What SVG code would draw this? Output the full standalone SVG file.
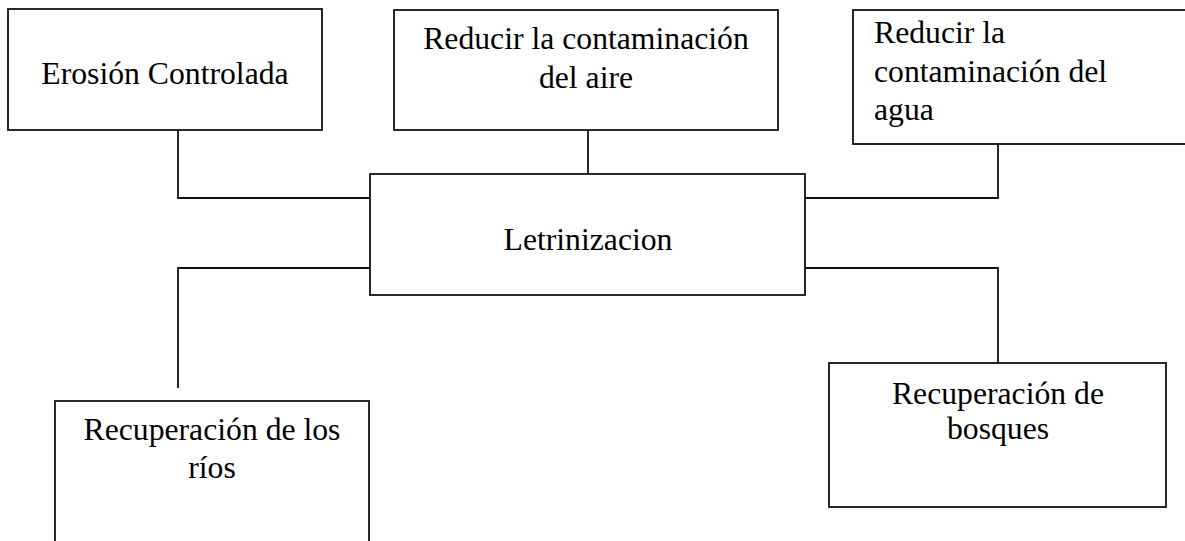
<svg xmlns="http://www.w3.org/2000/svg" width="1185" height="541" viewBox="0 0 1185 541">
<style>
.box{fill:#fff;stroke:#111;stroke-width:1.8}
.ln{fill:none;stroke:#111;stroke-width:1.8}
text{font-family:"Liberation Serif","Times New Roman",serif;font-size:31.7px;fill:#000}
.c{text-anchor:middle}
</style>
<rect width="1185" height="541" fill="#fff"/>
<g id="connectors">
<polyline class="ln" points="178,128 178,198 370,198"/>
<line class="ln" x1="588" y1="130" x2="588" y2="174"/>
<polyline class="ln" points="998,144 998,198 805,198"/>
<polyline class="ln" points="178,388 178,268 370,268"/>
<polyline class="ln" points="805,268 998,268 998,363"/>
</g>
<g id="erosion">
<rect class="box" x="8" y="9" width="314" height="121"/>
<text class="c" x="165" y="84">Erosión Controlada</text>
</g>
<g id="aire">
<rect class="box" x="394" y="10" width="384" height="120"/>
<text class="c" x="586" y="49">Reducir la contaminación</text>
<text class="c" x="586" y="87.5">del aire</text>
</g>
<g id="agua">
<rect class="box" x="853" y="10" width="340" height="134"/>
<text x="874" y="43">Reducir la</text>
<text x="874" y="82">contaminación del</text>
<text x="874" y="120">agua</text>
</g>
<g id="letrinizacion">
<rect class="box" x="370" y="174" width="435" height="121"/>
<text class="c" x="588" y="250">Letrinizacion</text>
</g>
<g id="rios">
<rect class="box" x="55" y="401" width="314" height="150"/>
<text class="c" x="212" y="440">Recuperación de los</text>
<text class="c" x="212" y="478">ríos</text>
</g>
<g id="bosques">
<rect class="box" x="829" y="363" width="337" height="144"/>
<text class="c" x="998" y="404">Recuperación de</text>
<text class="c" x="998" y="439">bosques</text>
</g>
</svg>
